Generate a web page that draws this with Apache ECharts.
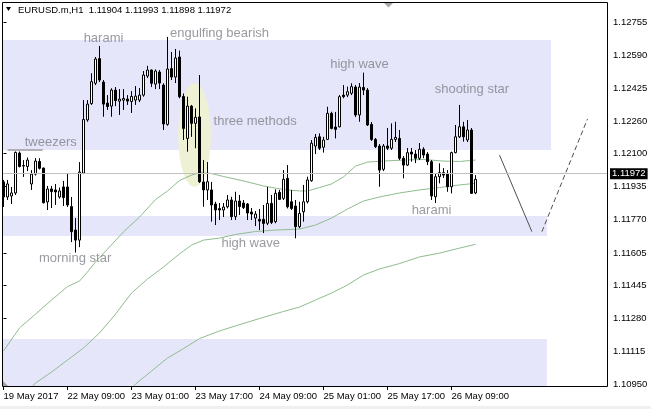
<!DOCTYPE html>
<html><head><meta charset="utf-8">
<script src="https://cdn.jsdelivr.net/npm/echarts@6/dist/echarts.min.js"></script>
<style>html,body{margin:0;padding:0;background:#fff;}#c{width:651px;height:409px;}</style>
</head><body><div id="c"></div>
<script>
const symbolName = 'EURUSD.m,H1';
const xTickBars = [0, 16, 32, 48, 64, 80, 96, 112];
const xTickLabels = ['19 May 2017', '22 May 09:00', '23 May 01:00', '23 May 17:00', '24 May 09:00', '25 May 01:00', '25 May 17:00', '26 May 09:00'];
const yTickLabels = ['1.10950', '1.11115', '1.11280', '1.11445', '1.11605', '1.11770', '1.11935', '1.12100', '1.12260', '1.12425', '1.12590', '1.12755'];

const open = [
1.11959,1.11884,1.11889,1.11904,1.12103,1.12038,1.12036,1.11949,1.11998,1.12061,
1.12028,1.11859,1.11924,1.11919,1.11884,1.11934,1.11934,1.11836,1.11719,1.11669,
1.12003,1.12268,1.12350,1.12451,1.12574,1.12457,1.12352,1.12337,1.12417,1.12362,
1.12367,1.12372,1.12360,1.12367,1.12367,1.12392,1.12487,1.12517,1.12447,1.12507,
1.12442,1.12246,1.12524,1.12482,1.12582,1.12385,1.12176,1.12337,1.12251,1.12283,
1.11959,1.11919,1.11919,1.11849,1.11826,1.11819,1.11835,1.11869,1.11786,1.11864,
1.11854,1.11849,1.11809,1.11779,1.11772,1.11772,1.11753,1.11852,1.11761,1.11907,
1.11877,1.11977,1.11860,1.11839,1.11736,1.11810,1.11860,1.11965,1.12138,1.12184,
1.12132,1.12171,1.12301,1.12233,1.12234,1.12392,1.12392,1.12401,1.12432,1.12293,
1.12430,1.12417,1.12246,1.12171,1.12138,1.12022,1.12138,1.12127,1.12171,1.12176,
1.12077,1.12043,1.12108,1.12098,1.12077,1.12122,1.12098,1.12060,1.11885,1.11985,
1.12005,1.11998,1.11935,1.12105,1.12184,1.12234,1.12168,1.12218,1.11904];
const close = [
1.11884,1.11949,1.11904,1.12106,1.12036,1.12041,1.12068,1.11998,1.12063,1.12027,
1.11855,1.11924,1.11911,1.11909,1.11914,1.11881,1.11844,1.11711,1.11669,1.12008,
1.12270,1.12347,1.12459,1.12572,1.12467,1.12347,1.12335,1.12417,1.12365,1.12372,
1.12375,1.12362,1.12385,1.12387,1.12392,1.12492,1.12517,1.12451,1.12512,1.12452,
1.12248,1.12522,1.12482,1.12577,1.12384,1.12226,1.12337,1.12251,1.12281,1.11960,
1.11919,1.11960,1.11844,1.11819,1.11819,1.11834,1.11869,1.11786,1.11864,1.11836,
1.11831,1.11804,1.11799,1.11799,1.11764,1.11752,1.11852,1.11757,1.11902,1.11872,
1.11972,1.11835,1.11827,1.11736,1.11802,1.11860,1.11969,1.12152,1.12181,1.12127,
1.12168,1.12301,1.12226,1.12221,1.12384,1.12384,1.12409,1.12434,1.12293,1.12432,
1.12417,1.12243,1.12171,1.12135,1.12018,1.12138,1.12127,1.12171,1.12181,1.12077,
1.12043,1.12105,1.12098,1.12077,1.12122,1.12093,1.12060,1.11889,1.11985,1.12005,
1.11993,1.11935,1.12105,1.12184,1.12234,1.12184,1.12218,1.11902,1.11972];
const low = [
1.11834,1.11869,1.11849,1.11894,1.12031,1.11984,1.12013,1.11919,1.11991,1.12021,
1.11852,1.11819,1.11829,1.11844,1.11876,1.11839,1.11834,1.11659,1.11607,1.11634,
1.11998,1.12259,1.12343,1.12442,1.12457,1.12284,1.12318,1.12284,1.12337,1.12293,
1.12318,1.12343,1.12303,1.12343,1.12357,1.12384,1.12477,1.12432,1.12422,1.12422,
1.12218,1.12239,1.12467,1.12452,1.12376,1.12168,1.12110,1.12184,1.12127,1.11954,
1.11835,1.11869,1.11761,1.11744,1.11769,1.11784,1.11827,1.11769,1.11769,1.11794,
1.11824,1.11769,1.11769,1.11739,1.11719,1.11704,1.11744,1.11749,1.11753,1.11869,
1.11869,1.11827,1.11819,1.11678,1.11728,1.11761,1.11852,1.11960,1.12098,1.12118,
1.12105,1.12168,1.12221,1.12176,1.12231,1.12376,1.12382,1.12392,1.12283,1.12259,
1.12392,1.12238,1.12163,1.12128,1.11935,1.12013,1.12118,1.12118,1.12158,1.12068,
1.11977,1.12038,1.12060,1.12053,1.12068,1.12077,1.12043,1.11869,1.11854,1.11952,
1.11979,1.11910,1.11902,1.12102,1.12178,1.12160,1.12158,1.11899,1.11898];
const high = [
1.11969,1.11969,1.11934,1.12111,1.12111,1.12068,1.12081,1.12018,1.12078,1.12077,
1.12031,1.11939,1.11939,1.11949,1.11931,1.11964,1.12003,1.11884,1.11779,1.12058,
1.12367,1.12367,1.12501,1.12582,1.12637,1.12467,1.12392,1.12426,1.12432,1.12422,
1.12422,1.12392,1.12412,1.12437,1.12427,1.12512,1.12538,1.12520,1.12520,1.12517,
1.12451,1.12682,1.12607,1.12622,1.12614,1.12400,1.12384,1.12343,1.12326,1.12492,
1.12068,1.12058,1.11959,1.11860,1.11854,1.11854,1.11894,1.11885,1.11910,1.11894,
1.11869,1.11854,1.11829,1.11814,1.11824,1.11844,1.11934,1.11894,1.11922,1.11919,
1.12018,1.12043,1.11919,1.11869,1.11860,1.11944,1.11985,1.12168,1.12198,1.12201,
1.12184,1.12334,1.12309,1.12308,1.12392,1.12442,1.12434,1.12451,1.12442,1.12452,
1.12504,1.12427,1.12258,1.12178,1.12148,1.12148,1.12228,1.12251,1.12259,1.12218,
1.12088,1.12128,1.12128,1.12118,1.12153,1.12132,1.12108,1.12068,1.12002,1.12052,
1.12028,1.12018,1.12110,1.12243,1.12343,1.12259,1.12268,1.12228,1.11993];

// moving averages: [bar index, price]
const maFast = [[0,1.11116],[4,1.11231],[8,1.11300],[12,1.11370],[16,1.11437],[19,1.11465],[21,1.11510],[23,1.11560],[26,1.11624],[30,1.11710],[34,1.11784],[38,1.11871],[41,1.11914],[44,1.11966],[47,1.11993],[49,1.12005],[52,1.12001],[55,1.11986],[60,1.11964],[65,1.11939],[70,1.11921],[74,1.11914],[76,1.11914],[79,1.11931],[82,1.11949],[85,1.11984],[88,1.12038],[91,1.12058],[95,1.12063],[100,1.12068],[105,1.12071],[110,1.12063],[114,1.12061],[118,1.12068]];
const maMid = [[7,1.10936],[8,1.10956],[12,1.11011],[16,1.11071],[20,1.11131],[24,1.11206],[28,1.11300],[32,1.11405],[36,1.11475],[40,1.11535],[44,1.11600],[47,1.11644],[50,1.11669],[54,1.11679],[58,1.11697],[63,1.11712],[68,1.11719],[74,1.11724],[78,1.11744],[82,1.11779],[86,1.11824],[90,1.11864],[94,1.11884],[99,1.11904],[104,1.11919],[109,1.11931],[114,1.11944],[118,1.11952]];
const maSlow = [[32,1.10931],[33,1.10951],[37,1.11016],[41,1.11081],[45,1.11128],[49,1.11178],[54,1.11216],[58,1.11241],[64,1.11278],[70,1.11313],[74,1.11335],[78,1.11370],[82,1.11405],[86,1.11445],[90,1.11495],[94,1.11525],[99,1.11552],[104,1.11585],[109,1.11604],[114,1.11629],[118,1.11648]];

// zones: [fromBar, toBar, topPrice, bottomPrice]
const zones = [[-5,136.9,1.12667,1.12118],[-5,135.85,1.11789,1.11689],[-5,135.85,1.11176,1.10900]];
// ellipse: [centerBar, centerPrice, radiusBars, radiusPrice]
const ellipseDef = [[47.75,1.12193,4.075,0.00258]];
const projSolid = [[124.0,1.12093],[132.1,1.11711]];
const projDashed = [[134.6,1.11711],[146.0,1.12273]];
const tweezersLine = [[1,1.12118],[9.8,1.12118]];
const annotations = [
  [25.0,1.12673,'harami'],[54.0,1.12702,'engulfing bearish'],[89.0,1.12543,'high wave'],
  [117.1,1.12418,'shooting star'],[11.8,1.12157,'tweezers'],[62.9,1.12260,'three methods'],
  [17.9,1.11576,'morning star'],[61.8,1.11654,'high wave'],[107.0,1.11816,'harami']];

const n = open.length;
const lastPrice = close[n-1];
const FONT = 'Liberation Sans';
const AX = 9.5;
const candles = open.map((o,i)=>[i,o,close[i],low[i],high[i]]);
const yTickValues = yTickLabels.map(Number);
const titleText = symbolName + '  ' + [open[n-1],high[n-1],low[n-1],close[n-1]].map(v=>v.toFixed(5)).join(' ');

const chart = echarts.init(document.getElementById('c'), null, {renderer:'canvas'});
chart.setOption({
  animation:false,
  backgroundColor:'#fff',
  title:{text:titleText,left:18,top:5,padding:0,textStyle:{fontFamily:FONT,fontSize:AX,fontWeight:'normal',color:'#000'}},
  grid:{left:3,top:3,width:605,height:384,show:false},
  xAxis:{type:'value',min:-0.125,max:151.125,splitLine:{show:false},axisLine:{show:false},
    axisTick:{show:true,length:3,customValues:xTickBars,lineStyle:{color:'#000'}},
    axisLabel:{customValues:xTickBars,align:'left',margin:4,color:'#000',fontFamily:FONT,fontSize:AX,
      formatter:v=>{const k=xTickBars.indexOf(Math.round(v));return k>=0?xTickLabels[k]:'';}}},
  yAxis:{type:'value',position:'right',min:1.109365,max:1.128512,scale:true,splitLine:{show:false},axisLine:{show:false},
    axisTick:{show:true,length:3,customValues:yTickValues,lineStyle:{color:'#000'}},
    axisLabel:{customValues:yTickValues,margin:5,color:'#000',fontFamily:FONT,fontSize:AX,formatter:v=>v.toFixed(5)}},
  graphic:[
    {type:'rect',z:100,silent:true,shape:{x:2.5,y:2.5,width:605,height:384},style:{fill:null,stroke:'#000',lineWidth:1}},
    {type:'polygon',z:100,silent:true,shape:{points:[[6,7],[11,7],[8.5,11]]},style:{fill:'#000'}},
    {type:'polygon',z:101,silent:true,shape:{points:[[3,381],[3,386],[8,386]]},style:{fill:'#a0a0a0'}},
    {type:'polygon',z:101,silent:true,shape:{points:[[384,3],[393,3],[388.5,7.5]]},style:{fill:'#a8a8a8'}},
    {type:'rect',z:100,silent:true,shape:{x:0,y:406,width:651,height:3},style:{fill:'#f0f0f0'}}
  ],
  series:[
    {type:'custom',name:'zones',silent:true,z:1,data:zones,
      renderItem:(params,api)=>{
        const p0=api.coord([api.value(0),api.value(2)]);
        const p1=api.coord([api.value(1),api.value(3)]);
        const cs=params.coordSys;
        const r=echarts.graphic.clipRectByRect({x:p0[0],y:p0[1],width:p1[0]-p0[0],height:p1[1]-p0[1]},{x:cs.x,y:cs.y,width:cs.width,height:cs.height});
        return r&&{type:'rect',shape:r,style:{fill:'#e6e6fa'}};
      }},
    {type:'custom',name:'ellipse',silent:true,z:2,data:ellipseDef,
      renderItem:(params,api)=>{
        const c=api.coord([api.value(0),api.value(1)]);
        const e=api.coord([api.value(0)+api.value(2),api.value(1)-api.value(3)]);
        return {type:'ellipse',shape:{cx:c[0],cy:c[1],rx:Math.abs(e[0]-c[0]),ry:Math.abs(e[1]-c[1])},style:{fill:'#eef1d3'}};
      }},
    {type:'line',name:'maFast',data:maFast,showSymbol:false,silent:true,z:3,lineStyle:{color:'#8fbc8f',width:1}},
    {type:'line',name:'maMid',data:maMid,showSymbol:false,silent:true,z:3,lineStyle:{color:'#8fbc8f',width:1}},
    {type:'line',name:'maSlow',data:maSlow,showSymbol:false,silent:true,z:3,lineStyle:{color:'#8fbc8f',width:1}},
    {type:'line',name:'tweezers',data:tweezersLine,showSymbol:false,silent:true,z:3,lineStyle:{color:'#707070',width:1}},
    {type:'line',name:'projSolid',data:projSolid,showSymbol:false,silent:true,z:3,lineStyle:{color:'#505050',width:1}},
    {type:'line',name:'projDashed',data:projDashed,showSymbol:false,silent:true,z:3,lineStyle:{color:'#505050',width:1,type:[5,3]}},
    {type:'candlestick',name:symbolName,data:candles,barWidth:2,z:4,silent:true,
      itemStyle:{color:'#fff',color0:'#000',borderColor:'#000',borderColor0:'#000',borderColorDoji:'#000',borderWidth:1},
      markLine:{silent:true,symbol:['none','none'],data:[{yAxis:lastPrice}],
        lineStyle:{color:'#c0c0c0',width:1,type:'solid'},
        label:{show:true,position:'end',distance:2,formatter:lastPrice.toFixed(5),backgroundColor:'#000',color:'#fff',padding:[1,2,0,2],fontFamily:FONT,fontSize:AX}}},
    {type:'scatter',name:'annotations',data:annotations,symbolSize:1,silent:true,z:5,itemStyle:{color:'rgba(0,0,0,0)'},
      label:{show:true,position:'inside',formatter:p=>p.data[2],color:'#80808a',fontFamily:FONT,fontSize:13}}
  ]
});
</script></body></html>
